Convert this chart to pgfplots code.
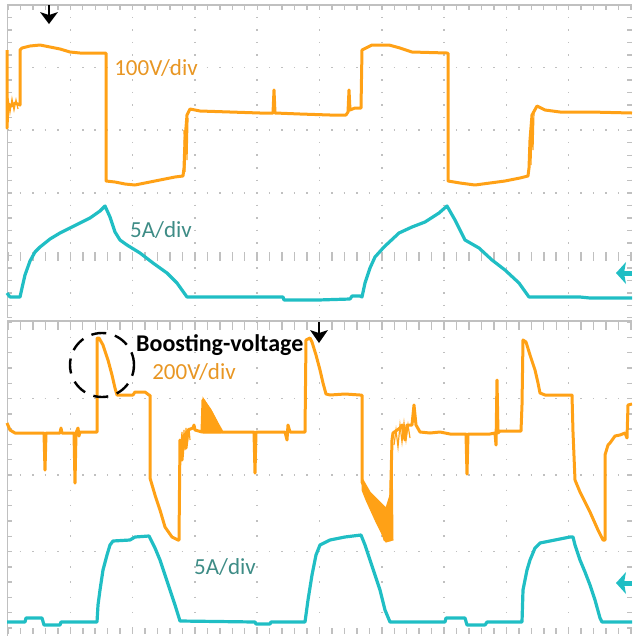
\documentclass[border=0pt]{standalone}
\usepackage{pgfplots}
\pgfplotsset{compat=1.18}
\usepackage{fontspec}
\setmainfont{Carlito}
\definecolor{tor}{RGB}{255,161,22}
\definecolor{lor}{RGB}{232,150,35}
\definecolor{tcy}{RGB}{32,190,196}
\definecolor{lcy}{RGB}{62,140,134}
\definecolor{gr}{RGB}{192,192,192}
\begin{document}
\begin{tikzpicture}
\begin{scope}[x=1pt,y=-1pt]
\useasboundingbox (0,0) rectangle (632,638);
% ---------- top panel grid ----------
\draw[gr, line width=1.2pt] (7,5) -- (632,5);
\draw[gr, line width=5pt, dash pattern=on 1.4pt off 11.06pt] (7.3,7.5) -- (632,7.5);
\draw[gr, line width=1pt] (7,5) -- (7,318);
\draw[gr, line width=5pt, dash pattern=on 1.4pt off 11.12pt] (9.5,4.3) -- (9.5,318);
\draw[gr, line width=5pt, dash pattern=on 1.4pt off 11.12pt] (629.5,4.3) -- (629.5,318);
\foreach \yy in {67.6,130.2,192.8}
  \draw[gr, line width=1.5pt, dash pattern=on 1.5pt off 10.96pt] (7.25,\yy) -- (632,\yy);
\draw[gr, line width=9pt, dash pattern=on 1.5pt off 10.96pt] (7.25,256.4) -- (632,256.4);
\foreach \xx in {70.3,132.6,194.9,257.2,319.5,381.8,444.1,506.4,568.7}
  \draw[gr, line width=1.5pt, dash pattern=on 1.5pt off 11.02pt] (\xx,4.25) -- (\xx,318);
% ---------- bottom panel grid ----------
\draw[gr, line width=2.5pt] (7,321) -- (632,321);
\draw[gr, line width=8pt, dash pattern=on 1.4pt off 11.06pt] (7.3,326) -- (632,326);
\draw[gr, line width=1pt] (7,321) -- (7,636);
\draw[gr, line width=5pt, dash pattern=on 1.4pt off 13.9pt] (9.5,321.3) -- (9.5,636);
\draw[gr, line width=5pt, dash pattern=on 1.4pt off 13.9pt] (629.5,321.3) -- (629.5,636);
\foreach \yy in {398.5,475,551.5}
  \draw[gr, line width=1.5pt, dash pattern=on 1.5pt off 10.96pt] (7.25,\yy) -- (632,\yy);
\draw[gr, line width=6pt, dash pattern=on 1.5pt off 10.96pt] (7.25,631) -- (632,631);
\foreach \xx in {70.3,132.6,194.9,257.2,319.5,381.8,444.1,506.4,568.7}
  \draw[gr, line width=1.5pt, dash pattern=on 1.5pt off 13.8pt] (\xx,321.25) -- (\xx,628);
\end{scope}

% ---------- top axis ----------
\begin{axis}[at={(0pt,0pt)}, anchor=north west, width=632pt, height=320pt,
  scale only axis, xmin=0, xmax=632, ymin=0, ymax=320, y dir=reverse,
  hide axis, clip=true]
\addplot[tor, line width=3pt, line join=round] coordinates {
(7,50) (7,128) (8,104) (12,106) (15,103) (20,105) (20,50) (22,48) (30,46) (40,45) (50,47)
(60,49) (70,52) (80,53) (106,53) (106,181) (115,182) (125,184) (135,185) (145,183)
(160,180) (175,177) (183,176) (184,168) (185,140) (187,115) (190,109) (200,111)
(230,112) (260,113) (273,113) (274,90) (275,113) (300,114) (330,115) (346,115)
(348,112) (349,90) (350,110) (355,108) (361,108) (362,50) (372,45) (389,45)
(400,48) (412,52) (447,53) (448,53) (448,181) (460,183) (475,185) (490,183)
(505,181) (520,178) (528,176) (529,168) (530,140) (532,115) (537,106) (545,110)
(560,112) (590,112) (632,113)};
\addplot[tor, line width=1.2pt] coordinates {(8,98) (10,112) (12,99) (14,110) (16,100) (18,109)};
\addplot[tor, line width=1.2pt] coordinates {(184,130) (185,172) (186,125) (187,160) (188,118)};
\addplot[tor, line width=1.2pt] coordinates {(530,130) (531,165) (532,120) (533,150) (534,112)};
\addplot[tcy, line width=3.2pt, line join=round] coordinates {
(7,293) (10,297) (20,297) (22,288) (25,275) (30,261) (35,252) (40,247) (50,239)
(60,233) (70,228) (80,223) (90,218) (100,211) (105,206) (110,217) (115,232)
(120,240) (127,245) (140,253) (153,263) (167,273) (177,283) (187,297) (230,297)
(283,297) (284,300) (318,300) (350,299) (352,296) (360,296) (362,297) (365,283)
(370,268) (375,257) (384,247) (399,233) (412,227) (425,222) (439,213) (447,206)
(455,220) (465,240) (479,248) (492,260) (505,270) (519,283) (529,297) (580,297)
(590,298) (632,298)};
\end{axis}

% ---------- bottom axis ----------
\begin{axis}[at={(0pt,-320pt)}, anchor=north west, width=632pt, height=318pt,
  scale only axis, xmin=0, xmax=632, ymin=320, ymax=638, y dir=reverse,
  hide axis, clip=true]
\addplot[tor, line width=3pt, line join=round] coordinates {
(7,423) (10,430) (15,433) (44,433) (45,470) (46,433) (60,433) (61,428) (62,433)
(74,433) (75,483) (76,433) (78,428) (79,436) (80,432) (97,432) (97,338) (99,338)
(103,345) (108,360) (112,375) (115,388) (117,395) (133,395) (135,392) (145,392)
(149,395) (150,395) (150,478) (155,495) (160,510) (165,527) (172,537) (178,540)
(179,540) (180,440) (182,460) (184,435) (186,448) (188,430) (193,428) (194,425)
(195,430) (202,432) (203,400) (210,410) (218,425) (222,432) (254,432) (255,473)
(256,432) (285,432) (287,440) (288,425) (290,432) (305,432) (306,340) (310,338)
(312,342) (316,355) (320,370) (323,383) (326,394) (330,395) (345,394) (360,395)
(362,395) (362,482) (366,490) (370,500) (374,510) (378,520) (382,530) (385,540)
(388,535) (390,540) (391,480) (392,440) (393,433) (400,428) (402,425) (405,440)
(407,425) (412,425) (414,405) (416,425) (420,432) (430,433) (440,432) (450,434)
(466,434) (467,474) (468,434) (490,434) (495,433) (496,445) (497,380) (498,433)
(500,431) (521,431) (522,405) (523,340) (526,342) (530,355) (535,370) (538,383)
(540,393) (545,395) (560,395) (572,395) (573,432) (575,480) (580,492) (590,512)
(598,530) (603,540) (605,540) (605,455) (608,445) (610,443) (615,436) (620,435)
(625,433) (627,438) (628,405) (632,404)};
\addplot[tor, fill=tor, line width=1pt] coordinates {(203,432) (203,398) (212,412) (221,430) (221,433) (203,433)} -- cycle;
\addplot[tor, fill=tor, line width=1pt] coordinates {(362,478) (370,492) (380,502) (386,508) (390,495) (392,440) (393,540) (386,542) (376,522) (366,500) (362,490)} -- cycle;
\addplot[tor, line width=1.2pt] coordinates {(181,445) (182,432) (183,455) (184,430) (185,450) (186,428) (187,445) (189,428) (190,440)};
\addplot[tor, line width=1.2pt] coordinates {(394,445) (396,430) (398,447) (400,425) (402,442) (404,423) (406,440) (408,425) (410,438)};
\addplot[tcy, line width=3.2pt, line join=round] coordinates {
(7,622) (25,622) (26,618) (42,618) (44,625) (60,625) (61,622) (97,622) (98,605)
(100,590) (103,570) (107,555) (110,545) (113,541) (130,540) (135,537) (149,536)
(155,548) (160,560) (165,575) (170,590) (175,605) (180,621) (255,622) (256,624)
(270,624) (271,622) (305,622) (308,600) (312,575) (316,555) (320,545) (330,540)
(345,537) (361,535) (365,545) (370,560) (375,575) (380,590) (385,610) (390,622)
(445,622) (446,618) (465,618) (467,625) (485,625) (487,622) (522,622) (523,590)
(527,570) (530,560) (535,548) (540,543) (555,540) (570,537) (573,537) (575,545)
(580,560) (585,572) (590,585) (595,600) (600,618) (602,622) (632,622)};
\end{axis}

% ---------- annotations ----------
\begin{scope}[x=1pt,y=-1pt]
\node[lor, font=\fontsize{23}{23}\selectfont, inner sep=0pt] at (156,68) {100V/div};
\node[lcy, font=\fontsize{23}{23}\selectfont, inner sep=0pt] at (161,230) {5A/div};
\node[black, font=\fontsize{24}{24}\selectfont\bfseries, inner sep=0pt, anchor=west] at (136,345) {Boosting-voltage};
\node[lor, font=\fontsize{23}{23}\selectfont, inner sep=0pt] at (194,372) {200V/div};
\node[lcy, font=\fontsize{23}{23}\selectfont, inner sep=0pt] at (225,567) {5A/div};
\draw[black, line width=2.4pt, dash pattern=on 15pt off 9pt, dash phase=4pt] (102,365) circle[radius=32];
% black trigger arrows
\draw[black, line width=2.5pt] (49,5) -- (49,16);
\fill[black] (40,12) -- (49,15) -- (58,12) -- (49,24) -- cycle;
\draw[black, line width=2.5pt] (319,322) -- (319,334);
\fill[black] (310,330) -- (319,333) -- (328,330) -- (319,343) -- cycle;
% cyan ground markers
\fill[tcy] (616,273) -- (626,262) -- (624,273) -- (626,284) -- cycle;
\draw[tcy, line width=5pt] (622,273) -- (632,273);
\fill[tcy] (616,583) -- (626,572) -- (624,583) -- (626,594) -- cycle;
\draw[tcy, line width=5pt] (622,583) -- (632,583);
\end{scope}
\end{tikzpicture}
\end{document}
